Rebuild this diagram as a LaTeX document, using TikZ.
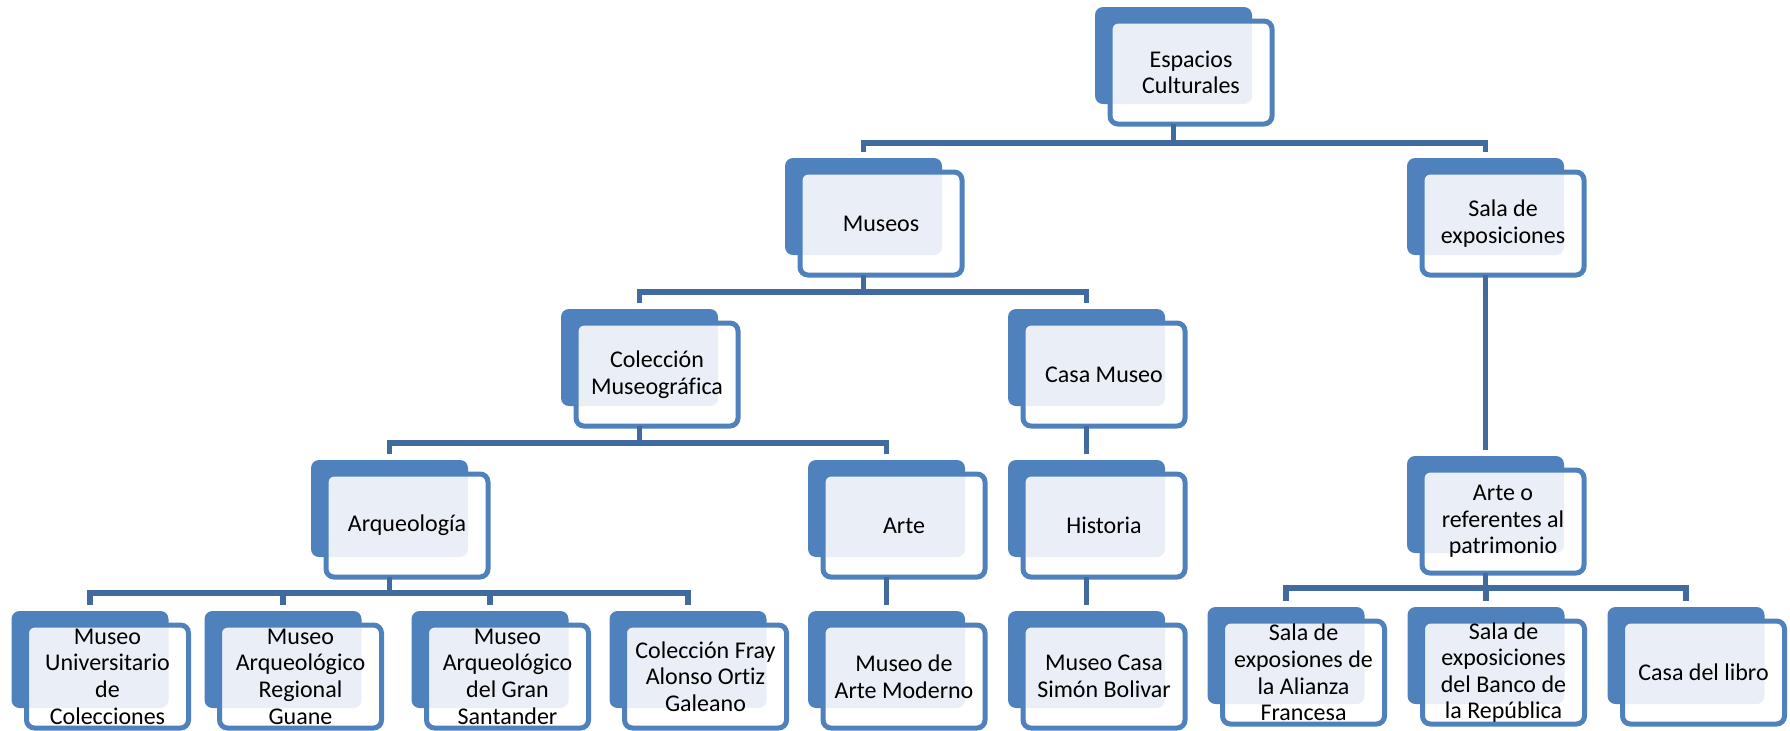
\documentclass[tikz,border=0pt]{standalone}
\usepackage{fontspec}
\setmainfont{Carlito}[Ligatures=NoCommon]

\definecolor{boxblue}{RGB}{79,129,189}
\definecolor{linkblue}{RGB}{65,106,158}
\definecolor{boxtint}{RGB}{234,239,247}

% box = dark back card + framed front card (name, back x, back y, text)
\newcommand{\orgbox}[4]{%
  \node[backbox] (#1-b) at (#2+78.5,#3+48.5) {};
  \node[frontbox] (#1) at (#2+96,#3+65.5) {#4};
}
% elbow from parent to child through the bus at height #3
\newcommand{\branch}[3]{%
  \draw[link] (#1-b.south |- #1.south) -- (#1-b.south |- 0,#3) -| ([yshift=3pt]#2-b.north);
}

\begin{document}
\begin{tikzpicture}[x=0.5pt, y=-0.5pt,
  backbox/.style={fill=boxblue, rounded corners=4pt, minimum width=78.5pt,
    minimum height=48.5pt, inner sep=0pt, outer sep=0pt},
  frontbox/.style={draw=boxblue, line width=2.5pt, fill=white, rounded corners=4pt,
    minimum width=81pt, minimum height=51.5pt, inner xsep=0pt, inner ysep=-2pt, outer sep=0pt,
    align=center, font=\fontsize{12pt}{13.3pt}\selectfont,
    path picture={\fill[boxtint, rounded corners=4pt]
      ([shift={(-7.5pt,7pt)}]path picture bounding box.north west) rectangle ++(78.5pt,-48.5pt);}},
  link/.style={draw=linkblue, line width=2.6pt}]
\useasboundingbox (0,0) rectangle (1790,730);

% Top levels
\orgbox{esp}{1095}{7}{Espacios\\Culturales}
\orgbox{mus}{785}{158}{Museos}
\orgbox{sala}{1407}{158}{Sala de\\exposiciones}
\orgbox{col}{561}{309}{Colección\\Museográfica}
\orgbox{casa}{1008}{309}{Casa Museo}
\orgbox{arq}{311}{460}{Arqueología}
\orgbox{arte}{808}{460}{Arte}
\orgbox{hist}{1008}{460}{Historia}
\orgbox{artref}{1407}{456}{Arte o\\referentes al\\patrimonio}

% Bottom row
\orgbox{muc}{11.5}{611}{Museo\\Universitario\\de\\Colecciones}
\orgbox{mag}{204.5}{611}{Museo\\Arqueológico\\Regional\\Guane}
\orgbox{mgs}{411.5}{611}{Museo\\Arqueológico\\del Gran\\Santander}
\orgbox{cfa}{609.5}{611}{Colección Fray\\Alonso Ortiz\\Galeano}
\orgbox{mam}{808}{611}{Museo de\\Arte Moderno}
\orgbox{mcs}{1008}{611}{Museo Casa\\Simón Bolivar}
\orgbox{saf}{1207.5}{607}{Sala de\\exposiones de\\la Alianza\\Francesa}
\orgbox{sbr}{1407.5}{607}{Sala de\\exposiciones\\del Banco de\\la República}
\orgbox{cdl}{1607.5}{607}{Casa del libro}

% Connectors
\branch{esp}{mus}{143}
\branch{esp}{sala}{143}
\branch{mus}{col}{292}
\branch{mus}{casa}{292}
\branch{col}{arq}{443}
\branch{col}{arte}{443}
\branch{casa}{hist}{443}
\branch{sala}{artref}{360}
\branch{arq}{muc}{593}
\branch{arq}{mag}{593}
\branch{arq}{mgs}{593}
\branch{arq}{cfa}{593}
\branch{arte}{mam}{593}
\branch{hist}{mcs}{593}
\branch{artref}{saf}{588}
\branch{artref}{sbr}{588}
\branch{artref}{cdl}{588}
\end{tikzpicture}
\end{document}
